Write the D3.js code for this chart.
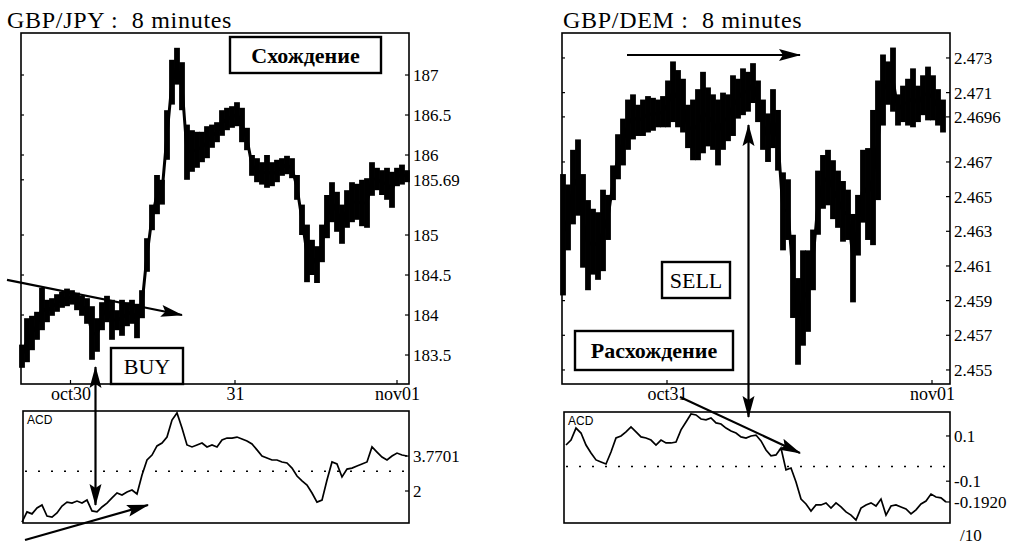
<!DOCTYPE html>
<html>
<head>
<meta charset="utf-8">
<script src="https://cdn.jsdelivr.net/npm/d3@7"></script>
<style>
  html, body { margin: 0; padding: 0; background: #fff; }
  svg { display: block; }
  text { font-family: "Liberation Serif", "Times New Roman", serif; fill: #000; white-space: pre; }
</style>
</head>
<body>
<svg id="chart" width="1017" height="552"></svg>
<script>
// ---- GBP/JPY, 8-minute bars (high / low) ----
const jpyHigh = [183.63,183.96,183.99,184.04,184.34,184.19,184.21,184.26,184.29,184.33,
  184.31,184.28,184.24,184.21,184.11,183.96,184.16,184.24,184.19,184.06,
  184.19,184.16,184.19,184.14,184.31,184.96,185.38,185.75,185.69,186.56,
  187.19,187.34,187.16,186.38,186.31,186.29,186.29,186.36,186.38,186.41,
  186.56,186.59,186.61,186.66,186.59,186.34,186.00,185.96,185.91,186.00,
  185.91,185.94,185.96,185.99,185.96,185.75,185.38,185.13,184.94,184.86,
  185.13,185.50,185.66,185.54,185.38,185.56,185.66,185.64,185.69,185.71,
  185.91,185.84,185.81,185.84,185.79,185.84,185.88,185.81];
const jpyLow = [183.34,183.41,183.56,183.69,183.81,183.91,183.99,184.04,184.09,184.11,
  184.13,184.06,183.99,183.89,183.44,183.54,183.81,183.91,183.69,183.81,
  183.74,183.86,183.89,183.71,183.96,184.54,185.06,185.26,185.38,185.94,
  186.63,186.88,186.56,185.69,185.79,185.84,185.91,185.96,186.09,186.16,
  186.24,186.31,186.34,186.36,186.16,186.06,185.74,185.66,185.63,185.59,
  185.61,185.66,185.74,185.76,185.71,185.44,185.00,184.41,184.50,184.40,
  184.66,184.96,185.16,185.04,184.89,185.09,185.16,185.19,185.11,185.09,
  185.49,185.56,185.50,185.44,185.34,185.61,185.63,185.66];
// ACD indicator for GBP/JPY, one value per bar
const jpyAcd = [0.43,0.94,0.84,1.14,1.29,0.73,0.68,0.89,1.24,1.44,
  1.39,1.49,1.39,1.54,0.99,0.94,1.19,1.39,1.65,1.90,
  1.80,1.95,2.05,1.85,2.81,3.57,3.82,4.28,4.43,4.73,
  5.59,5.95,5.19,4.33,4.23,4.33,4.43,4.23,4.33,4.23,
  4.58,4.68,4.68,4.73,4.63,4.53,4.38,4.08,3.77,3.67,
  3.57,3.57,3.47,3.42,3.16,2.76,2.51,2.30,1.90,1.44,
  1.54,2.56,3.47,3.37,2.71,3.11,3.16,3.27,3.37,3.47,
  4.23,3.97,3.72,3.57,3.77,3.92,3.82,3.7701];
const jpyPriceTicks = [187, 186.5, 186, 185.69, 185, 184.5, 184, 183.5];
const jpyAcdTicks = [3.7701, 2];
const jpyDayLabels = ["oct30", "31", "nov01"];
const jpyDayBars = [9.7, 42.6, 75];

// ---- GBP/DEM, 8-minute bars (high / low) ----
const demHigh = [2.4663,2.4657,2.4677,2.4683,2.4663,2.4648,2.4643,2.4641,2.4654,2.4651,
  2.4668,2.4686,2.4695,2.4706,2.4709,2.4703,2.4706,2.4708,2.4707,2.4706,
  2.4708,2.4717,2.4728,2.4723,2.4718,2.4703,2.4706,2.4712,2.4722,2.4713,
  2.4709,2.4706,2.4710,2.4709,2.4720,2.4718,2.4724,2.4722,2.4727,2.4717,
  2.4706,2.4698,2.4712,2.4700,2.4664,2.4660,2.4628,2.4603,2.4619,2.4619,
  2.4631,2.4665,2.4674,2.4677,2.4671,2.4665,2.4659,2.4654,2.4640,2.4651,
  2.4677,2.4678,2.4700,2.4717,2.4732,2.4728,2.4736,2.4709,2.4714,2.4718,
  2.4724,2.4714,2.4720,2.4725,2.4720,2.4712,2.4706];
const demLow = [2.4593,2.4619,2.4634,2.4639,2.4609,2.4596,2.4605,2.4602,2.4607,2.4625,
  2.4648,2.4660,2.4668,2.4677,2.4683,2.4685,2.4685,2.4687,2.4688,2.4690,
  2.4690,2.4690,2.4693,2.4690,2.4687,2.4678,2.4671,2.4671,2.4675,2.4679,
  2.4677,2.4668,2.4677,2.4682,2.4685,2.4695,2.4697,2.4699,2.4704,2.4693,
  2.4677,2.4670,2.4678,2.4665,2.4619,2.4625,2.4580,2.4553,2.4564,2.4572,
  2.4596,2.4628,2.4643,2.4645,2.4637,2.4632,2.4624,2.4625,2.4589,2.4616,
  2.4635,2.4625,2.4622,2.4648,2.4691,2.4703,2.4699,2.4691,2.4693,2.4691,
  2.4690,2.4693,2.4697,2.4694,2.4694,2.4691,2.4687];
// ACD indicator for GBP/DEM (scaled /10), one value per bar
const demAcd = [0.060,0.082,0.135,0.113,0.060,0.025,-0.006,-0.015,-0.024,0.029,
  0.091,0.100,0.118,0.140,0.118,0.096,0.091,0.082,0.060,0.082,
  0.069,0.069,0.073,0.127,0.162,0.197,0.193,0.175,0.171,0.180,
  0.158,0.153,0.135,0.122,0.113,0.096,0.091,0.100,0.104,0.078,
  0.038,0.012,0.016,0.047,-0.050,-0.042,-0.104,-0.179,-0.201,-0.232,
  -0.205,-0.205,-0.196,-0.219,-0.196,-0.214,-0.236,-0.250,-0.272,-0.219,
  -0.205,-0.196,-0.210,-0.179,-0.250,-0.210,-0.205,-0.214,-0.223,-0.245,
  -0.227,-0.201,-0.188,-0.157,-0.170,-0.174,-0.192];
const demPriceTicks = [2.473, 2.471, 2.4696, 2.467, 2.465, 2.463, 2.461, 2.459, 2.457, 2.455];
const demAcdTicks = [0.1, -0.1, -0.192];
const demAcdTickText = ["0.1", "-0.1", "-0.1920"];
const demDayLabels = ["oct31", "nov01"];
const demDayBars = [20.8, 73.8];

const svg = d3.select("#chart");
const serif = '"Liberation Serif", "Times New Roman", serif';

// arrowhead shared by all annotation arrows
svg.append("defs").append("marker")
  .attr("id", "head")
  .attr("viewBox", "0 -7 22 14")
  .attr("refX", 21).attr("refY", 0)
  .attr("markerUnits", "userSpaceOnUse")
  .attr("markerWidth", 22).attr("markerHeight", 14)
  .attr("orient", "auto-start-reverse")
  .append("path").attr("d", "M0,-6L22,0L0,6L4,0Z").attr("fill", "#000");

function frame(x0, y0, x1, y1) {
  svg.append("rect").attr("x", x0).attr("y", y0)
    .attr("width", x1 - x0).attr("height", y1 - y0)
    .attr("fill", "none").attr("stroke", "#000").attr("stroke-width", 1.6);
}

function pricePanel(o) {
  const x = d3.scaleLinear().domain([0, o.high.length - 1]).range(o.xRange);
  const y = d3.scaleLinear().domain(o.yDomain).range([o.y1, o.y0]);
  const bw = (o.xRange[1] - o.xRange[0]) / (o.high.length - 1);

  // title
  svg.append("text").attr("x", o.titleX).attr("y", 28)
    .style("font-size", "24px").style("letter-spacing", "0.7px").text(o.title);

  frame(o.x0, o.y0, o.x1, o.y1);

  // trace through bar mid-ranges keeps consecutive bars joined
  svg.append("path").datum(o.high)
    .attr("d", d3.line().x((d, i) => x(i)).y((d, i) => y((d + o.low[i]) / 2)))
    .attr("fill", "none").attr("stroke", "#000").attr("stroke-width", 3);

  // high-low bars
  svg.append("g").selectAll("rect").data(o.high).join("rect")
    .attr("x", (d, i) => x(i) - bw / 2 - 0.4)
    .attr("width", bw + 0.8)
    .attr("y", d => y(d))
    .attr("height", (d, i) => Math.max(1.5, y(o.low[i]) - y(d)))
    .attr("fill", "#000");

  // right-hand price axis
  const ax = svg.append("g").attr("transform", `translate(${o.x1},0)`)
    .call(d3.axisRight(y).tickValues(o.ticks).tickSize(0).tickPadding(4)
      .tickFormat(d3.format("")));
  ax.select(".domain").remove();
  ax.selectAll("text").style("font-size", "17px").style("font-family", serif);
  // small inner ticks on both side borders
  svg.append("g").selectAll("line").data(o.ticks).join("line")
    .attr("x1", o.x1 - 4).attr("x2", o.x1)
    .attr("y1", d => y(d)).attr("y2", d => y(d))
    .attr("stroke", "#000").attr("stroke-width", 1.2);
  svg.append("g").selectAll("line").data(o.ticks).join("line")
    .attr("x1", o.x0).attr("x2", o.x0 + 3)
    .attr("y1", d => y(d)).attr("y2", d => y(d))
    .attr("stroke", "#000").attr("stroke-width", 1.2);

  // day labels between the panels
  const dx = svg.append("g").attr("transform", `translate(0,${o.y1})`)
    .call(d3.axisBottom(x).tickValues(o.dayBars).tickSize(0).tickPadding(3)
      .tickFormat((d, i) => o.dayLabels[i]));
  dx.select(".domain").remove();
  dx.selectAll("text").style("font-size", "18px").style("font-family", serif);
  svg.append("g").selectAll("line").data(o.dayBars).join("line")
    .attr("x1", d => x(d)).attr("x2", d => x(d))
    .attr("y1", o.y1 - 4).attr("y2", o.y1)
    .attr("stroke", "#000").attr("stroke-width", 1.2);
  return { x, y };
}

function acdPanel(o) {
  const x = d3.scaleLinear().domain([0, o.values.length - 1]).range(o.xRange);
  const y = d3.scaleLinear().domain(o.yDomain).range([o.y1, o.y0]);
  frame(o.x0, o.y0, o.x1, o.y1);

  // dotted reference level
  svg.append("line")
    .attr("x1", o.x0 + 2).attr("x2", o.x1 - 2)
    .attr("y1", y(o.level)).attr("y2", y(o.level))
    .attr("stroke", "#000").attr("stroke-width", 1.6)
    .attr("stroke-dasharray", "2,11");

  svg.append("path").datum(o.values)
    .attr("d", d3.line().x((d, i) => x(i)).y(d => y(d)))
    .attr("fill", "none").attr("stroke", "#000").attr("stroke-width", 1.7)
    .attr("stroke-linejoin", "miter");

  svg.append("text").attr("x", o.x0 + 4).attr("y", o.y0 + 13)
    .style("font-family", '"Liberation Sans", Arial, sans-serif')
    .style("font-size", "12px").text("ACD");

  const ax = svg.append("g").attr("transform", `translate(${o.x1},0)`)
    .call(d3.axisRight(y).tickValues(o.ticks).tickSize(0).tickPadding(4)
      .tickFormat((d, i) => o.tickText[i]));
  ax.select(".domain").remove();
  ax.selectAll("text").style("font-size", "17px").style("font-family", serif);
  svg.append("g").selectAll("line").data(o.ticks).join("line")
    .attr("x1", o.x1 - 4).attr("x2", o.x1)
    .attr("y1", d => y(d)).attr("y2", d => y(d))
    .attr("stroke", "#000").attr("stroke-width", 1.2);
  return { x, y };
}

function labelBox(x0, y0, w, h, label, bold) {
  const g = svg.append("g");
  g.append("rect").attr("x", x0).attr("y", y0).attr("width", w).attr("height", h)
    .attr("fill", "#fff").attr("stroke", "#000").attr("stroke-width", 2.4);
  g.append("text").attr("x", x0 + w / 2).attr("y", y0 + h / 2)
    .attr("text-anchor", "middle").attr("dy", "0.35em")
    .style("font-size", "22px").style("font-weight", bold ? "bold" : "normal")
    .text(label);
}

function arrow(p0, p1, both) {
  svg.append("line")
    .attr("x1", p0[0]).attr("y1", p0[1]).attr("x2", p1[0]).attr("y2", p1[1])
    .attr("stroke", "#000").attr("stroke-width", 2.2)
    .attr("marker-end", "url(#head)")
    .attr("marker-start", both ? "url(#head)" : null);
}

// ===== GBP/JPY =====
const jp = pricePanel({
  title: "GBP/JPY :  8 minutes", titleX: 7,
  high: jpyHigh, low: jpyLow, ticks: jpyPriceTicks,
  x0: 21, x1: 409, y0: 33, y1: 384, xRange: [22, 407],
  yDomain: [183.1375, 187.525],
  dayLabels: jpyDayLabels, dayBars: jpyDayBars
});
const ja = acdPanel({
  values: jpyAcd, ticks: jpyAcdTicks, tickText: jpyAcdTicks.map(String),
  x0: 23, x1: 409, y0: 411, y1: 523, xRange: [22, 407],
  yDomain: [0.38, 6.05], level: 3.0
});

labelBox(230, 37, 151, 36, "Схождение", true);
labelBox(111, 348, 72, 36, "BUY", false);

// resistance line over the base, the buy signal, and the rising ACD support
arrow([jp.x(-3), jp.y(184.44)], [jp.x(32), jp.y(184.0)]);
arrow([jp.x(14.7), jp.y(183.35)], [jp.x(14.7), ja.y(1.29)], true);
arrow([ja.x(0.6), ja.y(-0.48)], [ja.x(25.2), ja.y(1.29)]);

// ===== GBP/DEM =====
const dm = pricePanel({
  title: "GBP/DEM :  8 minutes", titleX: 563,
  high: demHigh, low: demLow, ticks: demPriceTicks,
  x0: 562, x1: 950, y0: 33, y1: 384, xRange: [563, 943],
  yDomain: [2.45419, 2.47444],
  dayLabels: demDayLabels, dayBars: demDayBars
});
const da = acdPanel({
  values: demAcd, ticks: demAcdTicks, tickText: demAcdTickText,
  x0: 564, x1: 950, y0: 412, y1: 523, xRange: [566, 946],
  yDomain: [-0.285, 0.206], level: -0.035
});
svg.append("text").attr("x", 960).attr("y", 541).style("font-size", "17px").text("/10");

labelBox(662, 262, 68, 36, "SELL", false);
labelBox(575, 331, 158, 39, "Расхождение", true);

// flat highs, the sell signal, and the falling ACD highs
arrow([dm.x(12.8), dm.y(2.47317)], [dm.x(47.4), dm.y(2.47317)]);
arrow([dm.x(37.1), dm.y(2.46913)], [dm.x(37.1), da.y(0.184)], true);
arrow([dm.x(23.4), da.y(0.2726)], [dm.x(47.4), da.y(0.0248)]);
</script>
</body>
</html>
